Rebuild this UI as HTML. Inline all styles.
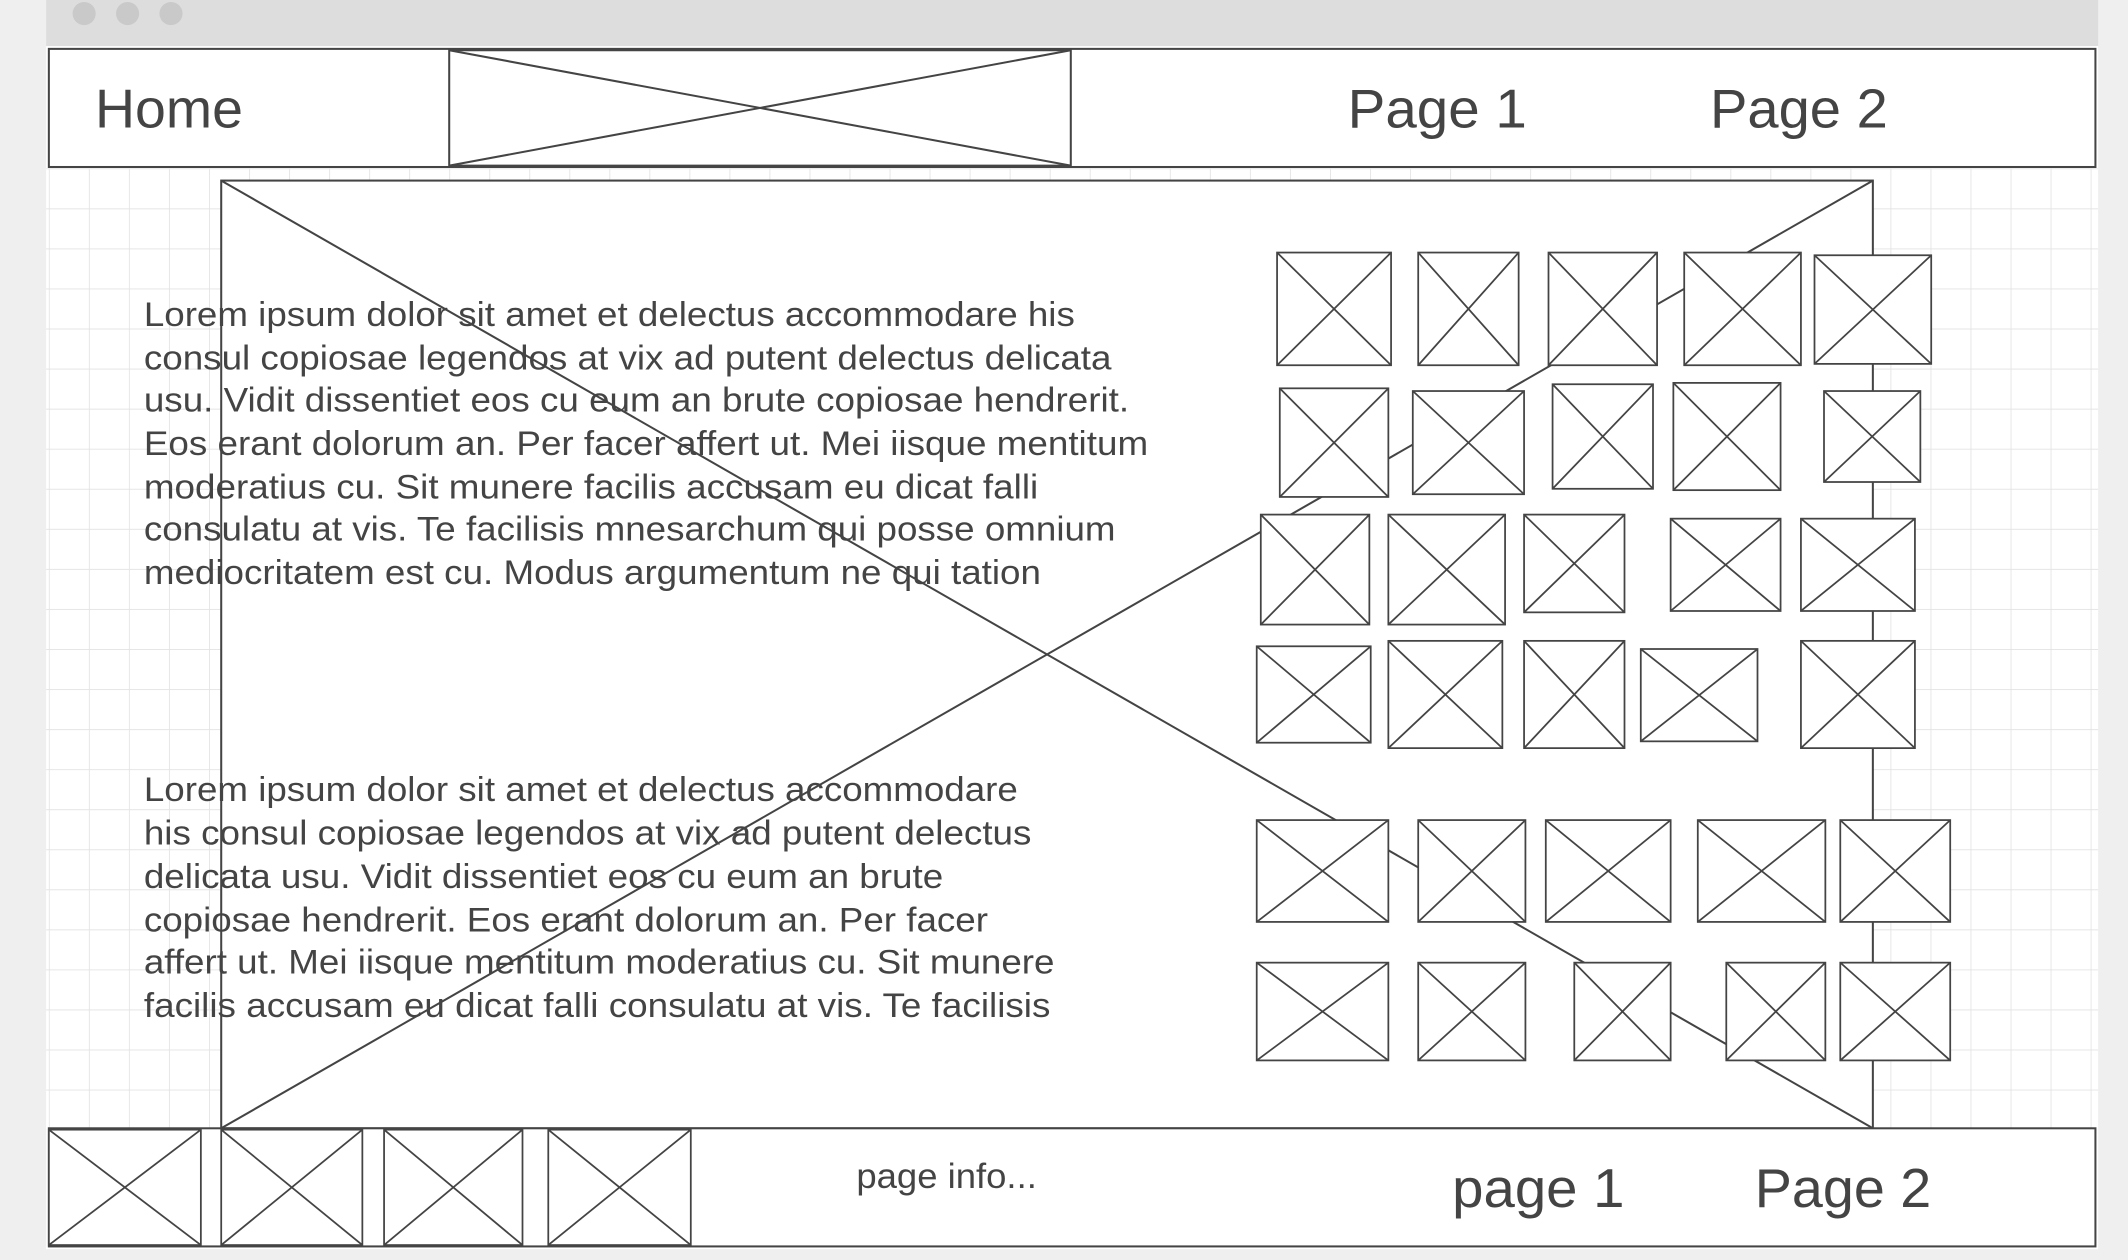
<!DOCTYPE html>
<html><head><meta charset="utf-8"><style>html,body{margin:0;padding:0;background:#efefef}svg{display:block}</style></head>
<body>
<svg width="2128" height="1260" viewBox="0 0 1568 928" preserveAspectRatio="none" xmlns="http://www.w3.org/2000/svg" font-family="'Liberation Sans', sans-serif">
<defs>
<pattern id="g" x="36" y="124" width="29.5" height="29.5" patternUnits="userSpaceOnUse">
<path d="M0 0H29.5M0 0V29.5" stroke="#e2e2e2" stroke-width="1.2" fill="none"/>
</pattern>
</defs>
<rect x="0" y="0" width="1568" height="928" fill="#efefef"/>
<rect x="34" y="0" width="1512" height="34" fill="#dddddd"/>
<circle cx="62" cy="10" r="8.5" fill="#c9c9c9"/><circle cx="94" cy="10" r="8.5" fill="#c9c9c9"/><circle cx="126" cy="10" r="8.5" fill="#c9c9c9"/>
<rect x="34" y="34" width="1512" height="886" fill="#fff"/>
<rect x="34" y="124" width="1512" height="708" fill="url(#g)"/>
<g stroke="#444" fill="#fff" stroke-width="1.5">
<rect x="36" y="36" width="1508" height="87"/>
<rect x="331" y="37" width="458" height="85"/>
<path d="M331 37L789 122M331 122L789 37" fill="none"/>
<rect x="163" y="133" width="1217" height="698"/>
<path d="M163 133L1380 831M163 831L1380 133" fill="none"/>
</g>
<g stroke="#444" stroke-width="1.5" fill="#fff">
<rect x="36" y="831" width="1508" height="87"/>
</g>
<g fill="#444">
<text x="70" y="94" font-size="40" textLength="109" lengthAdjust="spacingAndGlyphs">Home</text>
<text x="993" y="94" font-size="40" textLength="132" lengthAdjust="spacingAndGlyphs">Page 1</text>
<text x="1260" y="94" font-size="40" textLength="131" lengthAdjust="spacingAndGlyphs">Page 2</text>
<text x="631" y="875" font-size="26" textLength="133" lengthAdjust="spacingAndGlyphs">page info...</text>
<text x="1070" y="889" font-size="40" textLength="127" lengthAdjust="spacingAndGlyphs">page 1</text>
<text x="1293" y="889" font-size="40" textLength="130" lengthAdjust="spacingAndGlyphs">Page 2</text>
<g font-size="25.5">
<text x="106" y="240" textLength="686" lengthAdjust="spacingAndGlyphs">Lorem ipsum dolor sit amet et delectus accommodare his</text>
<text x="106" y="272" textLength="713" lengthAdjust="spacingAndGlyphs">consul copiosae legendos at vix ad putent delectus delicata</text>
<text x="106" y="303" textLength="726" lengthAdjust="spacingAndGlyphs">usu. Vidit dissentiet eos cu eum an brute copiosae hendrerit.</text>
<text x="106" y="335" textLength="740" lengthAdjust="spacingAndGlyphs">Eos erant dolorum an. Per facer affert ut. Mei iisque mentitum</text>
<text x="106" y="367" textLength="659" lengthAdjust="spacingAndGlyphs">moderatius cu. Sit munere facilis accusam eu dicat falli</text>
<text x="106" y="398" textLength="716" lengthAdjust="spacingAndGlyphs">consulatu at vis. Te facilisis mnesarchum qui posse omnium</text>
<text x="106" y="430" textLength="661" lengthAdjust="spacingAndGlyphs">mediocritatem est cu. Modus argumentum ne qui tation</text>
<text x="106" y="590" textLength="644" lengthAdjust="spacingAndGlyphs">Lorem ipsum dolor sit amet et delectus accommodare</text>
<text x="106" y="622" textLength="654" lengthAdjust="spacingAndGlyphs">his consul copiosae legendos at vix ad putent delectus</text>
<text x="106" y="654" textLength="589" lengthAdjust="spacingAndGlyphs">delicata usu. Vidit dissentiet eos cu eum an brute</text>
<text x="106" y="686" textLength="622" lengthAdjust="spacingAndGlyphs">copiosae hendrerit. Eos erant dolorum an. Per facer</text>
<text x="106" y="717" textLength="671" lengthAdjust="spacingAndGlyphs">affert ut. Mei iisque mentitum moderatius cu. Sit munere</text>
<text x="106" y="749" textLength="668" lengthAdjust="spacingAndGlyphs">facilis accusam eu dicat falli consulatu at vis. Te facilisis</text>
</g>
</g>
<g stroke="#444" fill="#fff" stroke-width="1.3">
<rect x="941" y="186" width="84" height="83"/><path d="M941 186L1025 269M941 269L1025 186"/>
<rect x="1045" y="186" width="74" height="83"/><path d="M1045 186L1119 269M1045 269L1119 186"/>
<rect x="1141" y="186" width="80" height="83"/><path d="M1141 186L1221 269M1141 269L1221 186"/>
<rect x="1241" y="186" width="86" height="83"/><path d="M1241 186L1327 269M1241 269L1327 186"/>
<rect x="1337" y="188" width="86" height="80"/><path d="M1337 188L1423 268M1337 268L1423 188"/>
<rect x="943" y="286" width="80" height="80"/><path d="M943 286L1023 366M943 366L1023 286"/>
<rect x="1041" y="288" width="82" height="76"/><path d="M1041 288L1123 364M1041 364L1123 288"/>
<rect x="1144" y="283" width="74" height="77"/><path d="M1144 283L1218 360M1144 360L1218 283"/>
<rect x="1233" y="282" width="79" height="79"/><path d="M1233 282L1312 361M1233 361L1312 282"/>
<rect x="1344" y="288" width="71" height="67"/><path d="M1344 288L1415 355M1344 355L1415 288"/>
<rect x="929" y="379" width="80" height="81"/><path d="M929 379L1009 460M929 460L1009 379"/>
<rect x="1023" y="379" width="86" height="81"/><path d="M1023 379L1109 460M1023 460L1109 379"/>
<rect x="1123" y="379" width="74" height="72"/><path d="M1123 379L1197 451M1123 451L1197 379"/>
<rect x="1231" y="382" width="81" height="68"/><path d="M1231 382L1312 450M1231 450L1312 382"/>
<rect x="1327" y="382" width="84" height="68"/><path d="M1327 382L1411 450M1327 450L1411 382"/>
<rect x="926" y="476" width="84" height="71"/><path d="M926 476L1010 547M926 547L1010 476"/>
<rect x="1023" y="472" width="84" height="79"/><path d="M1023 472L1107 551M1023 551L1107 472"/>
<rect x="1123" y="472" width="74" height="79"/><path d="M1123 472L1197 551M1123 551L1197 472"/>
<rect x="1209" y="478" width="86" height="68"/><path d="M1209 478L1295 546M1209 546L1295 478"/>
<rect x="1327" y="472" width="84" height="79"/><path d="M1327 472L1411 551M1327 551L1411 472"/>
<rect x="926" y="604" width="97" height="75"/><path d="M926 604L1023 679M926 679L1023 604"/>
<rect x="1045" y="604" width="79" height="75"/><path d="M1045 604L1124 679M1045 679L1124 604"/>
<rect x="1139" y="604" width="92" height="75"/><path d="M1139 604L1231 679M1139 679L1231 604"/>
<rect x="1251" y="604" width="94" height="75"/><path d="M1251 604L1345 679M1251 679L1345 604"/>
<rect x="1356" y="604" width="81" height="75"/><path d="M1356 604L1437 679M1356 679L1437 604"/>
<rect x="926" y="709" width="97" height="72"/><path d="M926 709L1023 781M926 781L1023 709"/>
<rect x="1045" y="709" width="79" height="72"/><path d="M1045 709L1124 781M1045 781L1124 709"/>
<rect x="1160" y="709" width="71" height="72"/><path d="M1160 709L1231 781M1160 781L1231 709"/>
<rect x="1272" y="709" width="73" height="72"/><path d="M1272 709L1345 781M1272 781L1345 709"/>
<rect x="1356" y="709" width="81" height="72"/><path d="M1356 709L1437 781M1356 781L1437 709"/>
<rect x="36" y="832" width="112" height="85"/><path d="M36 832L148 917M36 917L148 832"/>
<rect x="163" y="832" width="104" height="85"/><path d="M163 832L267 917M163 917L267 832"/>
<rect x="283" y="832" width="102" height="85"/><path d="M283 832L385 917M283 917L385 832"/>
<rect x="404" y="832" width="105" height="85"/><path d="M404 832L509 917M404 917L509 832"/>
</g>
</svg>
</body></html>
